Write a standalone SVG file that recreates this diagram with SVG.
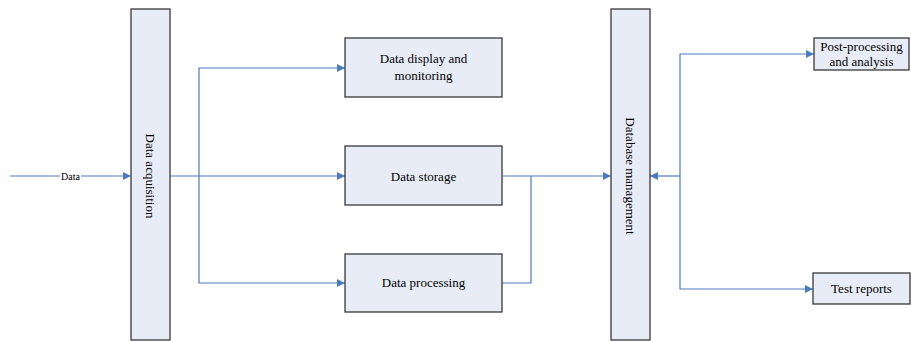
<svg xmlns="http://www.w3.org/2000/svg" width="911" height="342" viewBox="0 0 911 342">
<defs>
<style>
.box{fill:#E7ECF6;stroke:#3a3a3a;stroke-width:1.3}
.t{font-family:'Liberation Serif','Times New Roman','DejaVu Serif',serif;font-size:13px;fill:#000;text-anchor:middle}
.c{fill:none;stroke:#4A7CC0;stroke-width:1.2}
</style>
<marker id="a" viewBox="0 0 10 10" refX="10" refY="5" markerWidth="8" markerHeight="8" markerUnits="userSpaceOnUse" orient="auto">
<path d="M0,0 L10,5 L0,10 z" fill="#4A7CC0"/>
</marker>
</defs>
<rect width="911" height="342" fill="#fff"/>
<g id="connectors">
<line class="c" x1="10" y1="176" x2="131" y2="176" marker-end="url(#a)"/>
<line class="c" x1="170" y1="176" x2="345" y2="176" marker-end="url(#a)"/>
<polyline class="c" points="199,176 199,68 345,68" marker-end="url(#a)"/>
<polyline class="c" points="199,176 199,283 345,283" marker-end="url(#a)"/>
<line class="c" x1="502" y1="176" x2="611" y2="176" marker-end="url(#a)"/>
<polyline class="c" points="502,283 531,283 531,176"/>
<line class="c" x1="680" y1="176" x2="650" y2="176" marker-end="url(#a)"/>
<polyline class="c" points="680,176 680,54 814,54" marker-end="url(#a)"/>
<polyline class="c" points="680,176 680,289 813,289" marker-end="url(#a)"/>
<rect x="60" y="170" width="21" height="12" fill="#fff"/>
<text class="t" x="70.5" y="179.5" font-family="Liberation Serif, serif" style="font-size:10px">Data</text>
</g>
<g id="acq">
<rect class="box" x="131" y="9" width="39" height="331"/>
<text class="t" font-family="Liberation Serif, serif" transform="translate(150.5,176) rotate(90)" y="4.5">Data acquisition</text>
</g>
<g id="display">
<rect class="box" x="345" y="38" width="157" height="59"/>
<text class="t" font-family="Liberation Serif, serif" x="423.5" y="63">Data display and</text>
<text class="t" font-family="Liberation Serif, serif" x="423.5" y="80">monitoring</text>
</g>
<g id="storage">
<rect class="box" x="345" y="146" width="157" height="59"/>
<text class="t" font-family="Liberation Serif, serif" x="423.5" y="180.5">Data storage</text>
</g>
<g id="processing">
<rect class="box" x="345" y="254" width="157" height="58"/>
<text class="t" font-family="Liberation Serif, serif" x="423.5" y="287">Data processing</text>
</g>
<g id="db">
<rect class="box" x="611" y="9" width="39" height="331"/>
<text class="t" font-family="Liberation Serif, serif" transform="translate(630.5,176) rotate(90)" y="4.5">Database management</text>
</g>
<g id="post">
<rect class="box" x="814" y="38" width="95" height="32"/>
<text class="t" font-family="Liberation Serif, serif" x="861.5" y="51">Post-processing</text>
<text class="t" font-family="Liberation Serif, serif" x="861.5" y="66">and analysis</text>
</g>
<g id="reports">
<rect class="box" x="813" y="273" width="97" height="31"/>
<text class="t" font-family="Liberation Serif, serif" x="861.5" y="293">Test reports</text>
</g>
</svg>
